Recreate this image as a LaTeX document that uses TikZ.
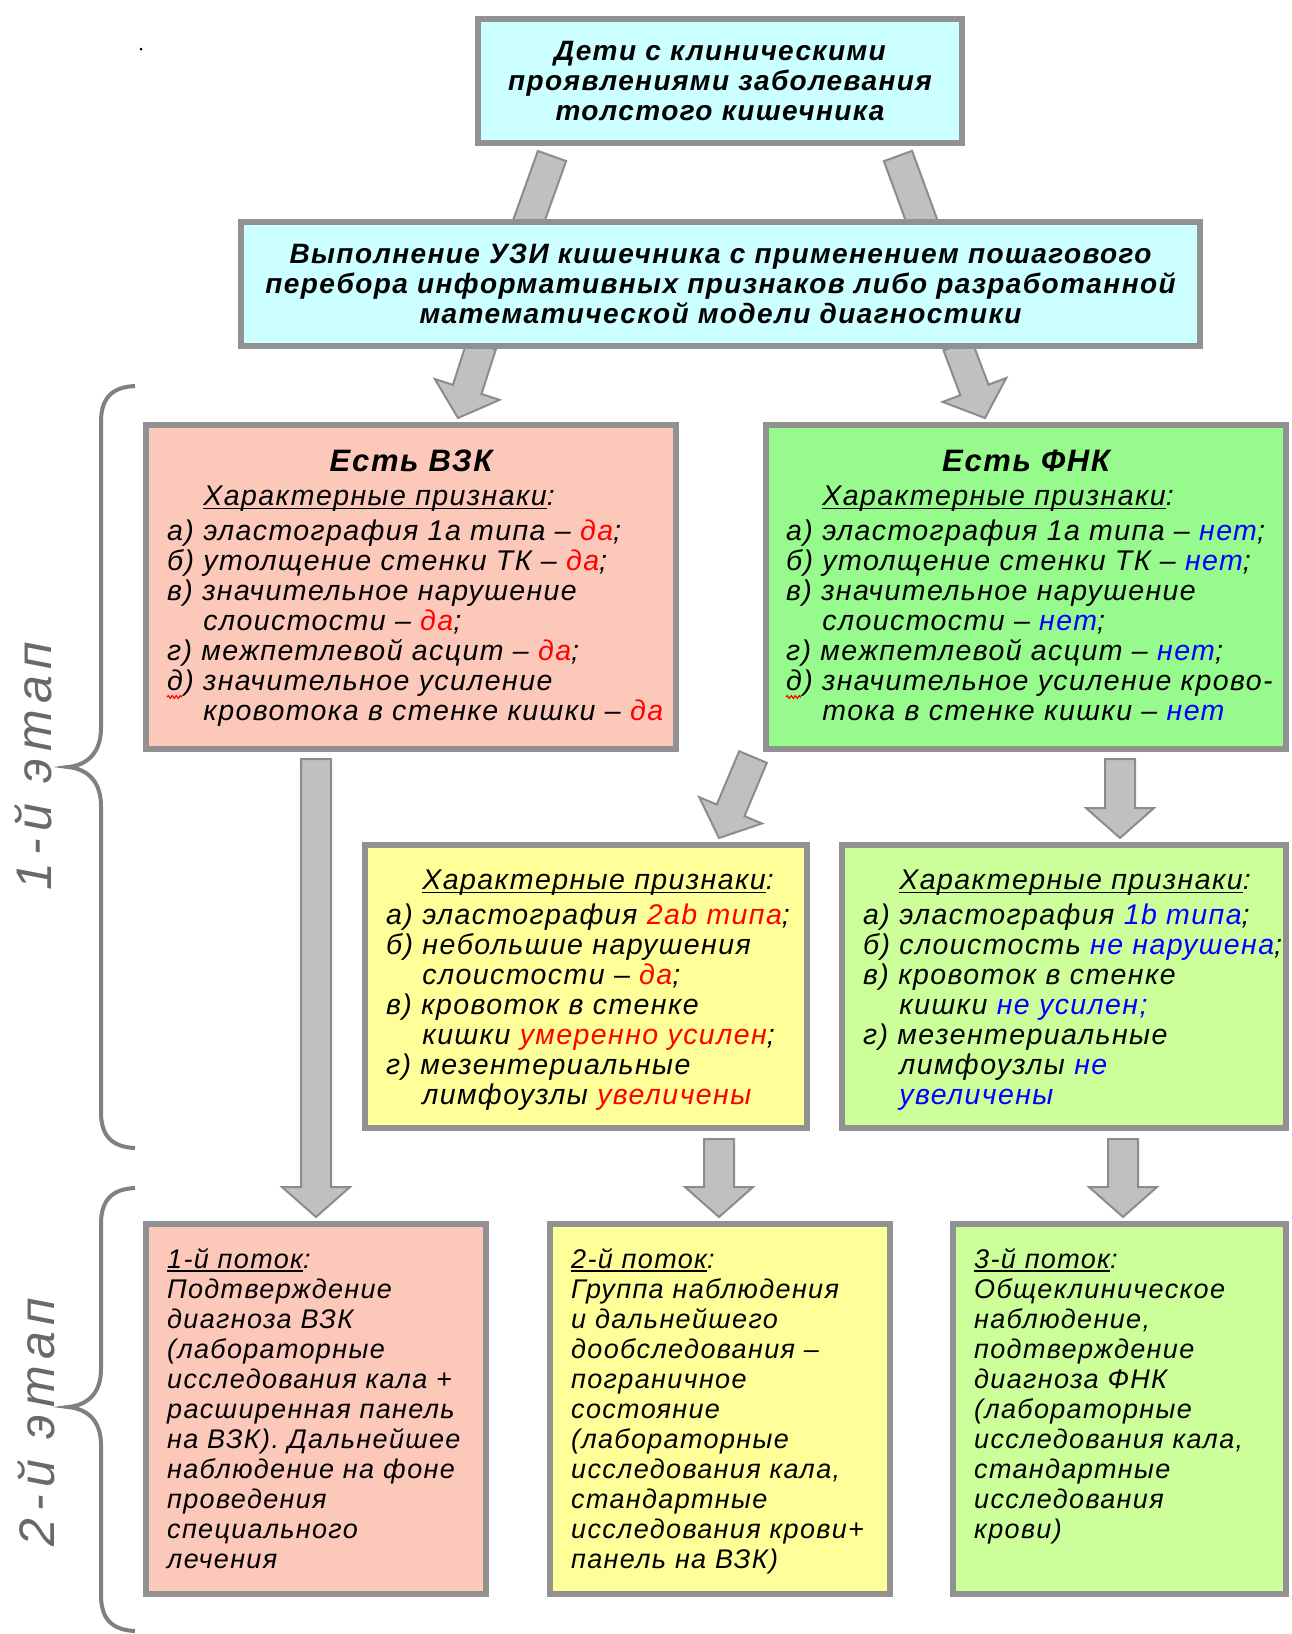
\documentclass[tikz,border=0pt]{standalone}
\usepackage{fontspec}
\setmainfont{Liberation Sans}[LetterSpace=5]
\usetikzlibrary{calc,decorations.pathmorphing}

\definecolor{skyfill}{RGB}{204,255,255}
\definecolor{ibdfill}{RGB}{252,200,186}
\definecolor{fbdfill}{RGB}{150,250,140}
\definecolor{midfill}{RGB}{255,255,153}
\definecolor{limefill}{RGB}{204,255,153}
\definecolor{rimgray}{RGB}{145,145,145}
\definecolor{shaftfill}{RGB}{192,192,192}
\definecolor{shaftline}{RGB}{140,140,140}
\definecolor{stagegray}{RGB}{105,105,105}
\definecolor{yesred}{RGB}{255,0,0}
\definecolor{noblue}{RGB}{0,0,255}

\pgfdeclarelayer{background}
\pgfsetlayers{background,main}

\newsavebox{\ulbox}
\newcommand{\uln}[1]{\sbox{\ulbox}{#1}\rlap{\rule[-3.5pt]{\wd\ulbox}{1.6pt}}\usebox{\ulbox}}
\newcommand{\hng}{\hphantom{б)\ }}
\newcommand{\redtxt}[1]{\textcolor{yesred}{#1}}
\newcommand{\bluetxt}[1]{\textcolor{noblue}{#1}}
\newcommand{\blockarrow}[2]{%
    \path ($(#2)!30pt!(#1)$) coordinate (hb);
    \draw[arrowbody]
        ($(#1)!15pt!-90:(#2)$) -- ($(hb)!15pt!-90:(#2)$) -- ($(hb)!34pt!-90:(#2)$)
        -- (#2) -- ($(hb)!34pt!90:(#2)$) -- ($(hb)!15pt!90:(#2)$) -- ($(#1)!15pt!90:(#2)$) -- cycle;
}

\tikzset{
    panel/.style={draw=rimgray,line width=6pt,inner sep=0pt},
    paneltext/.style={font=\fontsize{28.5}{30}\selectfont\itshape,align=left,inner sep=0pt,anchor=north west},
    flowtext/.style={font=\fontsize{27}{30}\selectfont\itshape,align=left,inner sep=0pt,anchor=north west},
    titletext/.style={font=\fontsize{31}{30}\selectfont\bfseries\itshape,inner sep=0pt,anchor=base},
    headtext/.style={font=\fontsize{28}{30}\selectfont\bfseries\itshape,align=center},
    arrowbody/.style={fill=shaftfill,draw=shaftline,line width=2pt,line join=miter},
    stagebrace/.style={draw=gray,line width=4pt},
    stagelabel/.style={rotate=90,text=stagegray,font=\fontsize{50}{50}\selectfont\itshape\addfontfeature{LetterSpace=14},inner sep=0pt},
    squiggle/.style={draw=red,line width=1.2pt,decorate,decoration={snake,amplitude=1.4pt,segment length=4pt}},
}

\begin{document}
\begin{tikzpicture}[x=1pt,y=-1pt]
    \useasboundingbox (0,0) rectangle (1292,1634);

    \node[panel,headtext,fill=skyfill,minimum width=484pt,minimum height=124pt] (top) at (720,81)
        {Дети с клиническими\\проявлениями заболевания\\толстого кишечника};
    \node[panel,headtext,fill=skyfill,minimum width=959pt,minimum height=124pt] (uzi) at (720.5,284)
        {Выполнение УЗИ кишечника с применением пошагового\\
         перебора информативных признаков либо разработанной\\
         математической модели диагностики};

    \node[panel,fill=ibdfill,minimum width=530pt,minimum height=324pt] (vzk) at (411,587) {};
    \node[panel,fill=fbdfill,minimum width=520pt,minimum height=324pt] (fnk) at (1026,587) {};
    \node[panel,fill=midfill,minimum width=442pt,minimum height=283pt] (yel) at (586,986.5) {};
    \node[panel,fill=limefill,minimum width=444pt,minimum height=283pt] (lgr) at (1064,986.5) {};
    \node[panel,fill=ibdfill,minimum width=340pt,minimum height=370pt] (b1) at (316,1409) {};
    \node[panel,fill=midfill,minimum width=340pt,minimum height=370pt] (b2) at (720,1409) {};
    \node[panel,fill=limefill,minimum width=333pt,minimum height=370pt] (b3) at (1119.5,1409) {};

    \node[titletext] (vzkhead) at ($(vzk.north)+(0,49)$) {Есть ВЗК};
    \node[titletext] (fnkhead) at ($(fnk.north)+(0,49)$) {Есть ФНК};

    \node[paneltext] (vzklist) at ($(vzk.north west)+(24,64)$) {%
        \hng\uln{Характерные признаки}:\\[5pt]
        а) эластография 1а типа – \redtxt{да};\\
        б) утолщение стенки ТК – \redtxt{да};\\
        в) значительное нарушение\\
        \hng слоистости – \redtxt{да};\\
        г) межпетлевой асцит – \redtxt{да};\\
        д) значительное усиление\\
        \hng кровотока в стенке кишки – \redtxt{да}};
    \node[paneltext] (fnklist) at ($(fnk.north west)+(23,64)$) {%
        \hng\uln{Характерные признаки}:\\[5pt]
        а) эластография 1а типа – \bluetxt{нет};\\
        б) утолщение стенки ТК – \bluetxt{нет};\\
        в) значительное нарушение\\
        \hng слоистости – \bluetxt{нет};\\
        г) межпетлевой асцит – \bluetxt{нет};\\
        д) значительное усиление крово-\\
        \hng тока в стенке кишки – \bluetxt{нет}};
    \node[paneltext] (yellist) at ($(yel.north west)+(24,28)$) {%
        \hng\uln{Характерные признаки}:\\[5pt]
        а) эластография \redtxt{2ab типа};\\
        б) небольшие нарушения\\
        \hng слоистости – \redtxt{да};\\
        в) кровоток в стенке\\
        \hng кишки \redtxt{умеренно усилен};\\
        г) мезентериальные\\
        \hng лимфоузлы \redtxt{увеличены}};
    \node[paneltext] (lgrlist) at ($(lgr.north west)+(24,28)$) {%
        \hng\uln{Характерные признаки}:\\[5pt]
        а) эластография \bluetxt{1b типа};\\
        б) слоистость \bluetxt{не нарушена};\\
        в) кровоток в стенке\\
        \hng кишки \bluetxt{не усилен;}\\
        г) мезентериальные\\
        \hng лимфоузлы \bluetxt{не}\\
        \hng \bluetxt{увеличены}};

    \node[flowtext] (b1txt) at ($(b1.north west)+(24,27)$) {%
        \uln{1-й поток}:\\
        Подтверждение\\
        диагноза ВЗК\\
        (лабораторные\\
        исследования кала +\\
        расширенная панель\\
        на ВЗК). Дальнейшее\\
        наблюдение на фоне\\
        проведения\\
        специального\\
        лечения};
    \node[flowtext] (b2txt) at ($(b2.north west)+(24,27)$) {%
        \uln{2-й поток}:\\
        Группа наблюдения\\
        и дальнейшего\\
        дообследования –\\
        пограничное\\
        состояние\\
        (лабораторные\\
        исследования кала,\\
        стандартные\\
        исследования крови+\\
        панель на ВЗК)};
    \node[flowtext] (b3txt) at ($(b3.north west)+(24,27)$) {%
        \uln{3-й поток}:\\
        Общеклиническое\\
        наблюдение,\\
        подтверждение\\
        диагноза ФНК\\
        (лабораторные\\
        исследования кала,\\
        стандартные\\
        исследования\\
        крови)};

    \coordinate (a1s) at ($(top.south)+(-168,10)$);
    \coordinate (a1e) at ($(uzi.north)+(-210,53)$);
    \coordinate (a2s) at ($(top.south)+(178,10)$);
    \coordinate (a2e) at ($(uzi.north)+(220,53)$);
    \coordinate (a3s) at ($(uzi.south)+(-239,-4)$);
    \coordinate (a3e) at ($(vzk.north)+(47,-4)$);
    \coordinate (a4s) at ($(uzi.south)+(237,-4)$);
    \coordinate (a4e) at ($(fnk.north)+(-41,-4)$);
    \coordinate (a5s) at ($(vzk.south)+(-95,7)$);
    \coordinate (a5e) at ($(b1.north)+(0,-4)$);
    \coordinate (a6s) at ($(fnk.south west)+(-10,5)$);
    \coordinate (a6e) at ($(yel.north east)+(-91,-4)$);
    \coordinate (a7s) at ($(fnk.south)+(94,7)$);
    \coordinate (a7e) at ($(lgr.north)+(56,-4)$);
    \coordinate (a8s) at ($(yel.south)+(133,8)$);
    \coordinate (a8e) at ($(b2.north)+(-1,-4)$);
    \coordinate (a9s) at ($(lgr.south)+(59,8)$);
    \coordinate (a9e) at ($(b3.north)+(3.5,-4)$);

    \begin{pgfonlayer}{background}
        \foreach \k in {1,...,9} {\blockarrow{a\k s}{a\k e}}
    \end{pgfonlayer}

    \draw[stagebrace] (135,386) .. controls (112,387) and (101,398) .. (101,422) -- (101,728)
        .. controls (101,752) and (88,765) .. (68,767) .. controls (88,769) and (101,782) .. (101,806)
        -- (101,1112) .. controls (101,1136) and (112,1147) .. (135,1148);
    \draw[stagebrace] (135,1188) .. controls (112,1189) and (101,1200) .. (101,1224) -- (101,1369)
        .. controls (101,1393) and (88,1405) .. (68,1407) .. controls (88,1409) and (101,1421) .. (101,1445)
        -- (101,1595) .. controls (101,1619) and (112,1630) .. (135,1631);
    \node[stagelabel] (stage1) at (33,766) {1-й этап};
    \node[stagelabel] (stage2) at (36,1422) {2-й этап};

    \draw[squiggle] ($(vzklist.north west)+(0,211)$) -- ++(15,0);
    \draw[squiggle] ($(fnklist.north west)+(0,211)$) -- ++(15,0);

    \fill (141,49) circle (1.5);
\end{tikzpicture}
\end{document}
